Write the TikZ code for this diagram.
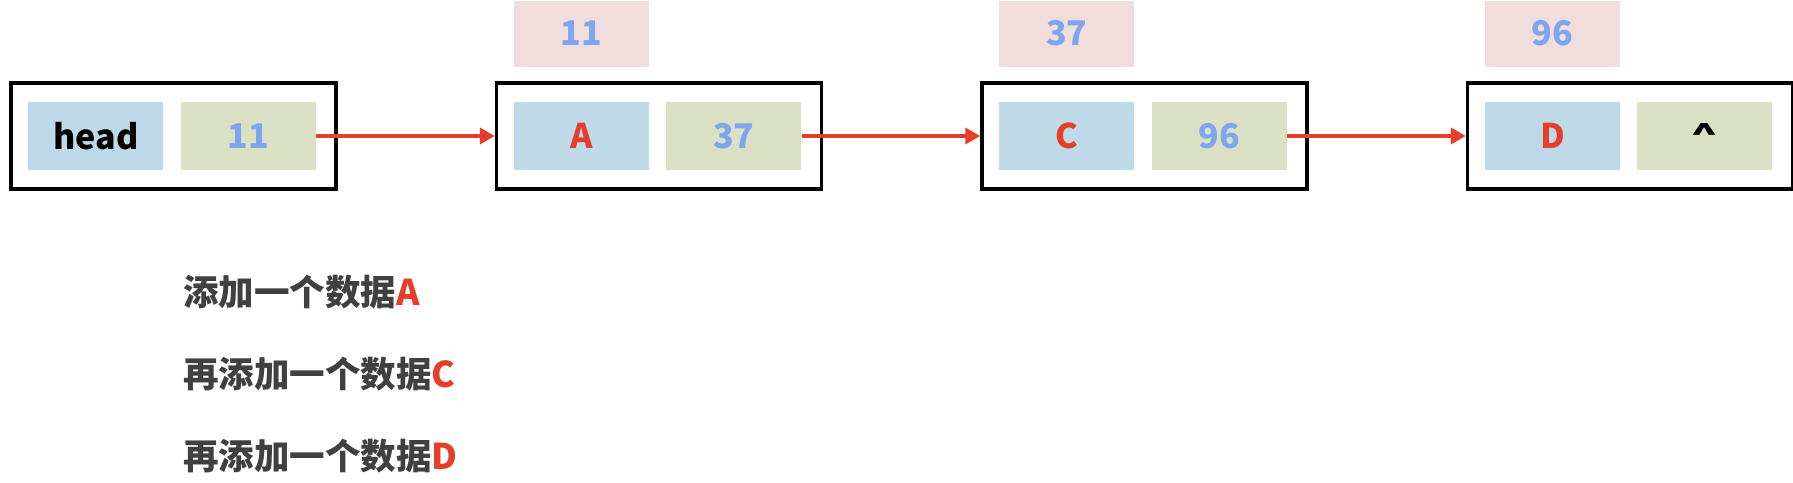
\documentclass[tikz,border=0pt]{standalone}
\usepackage{fontspec}
\setmainfont{Noto Sans CJK SC}
\usetikzlibrary{positioning,arrows.meta}

\definecolor{cellblue}{RGB}{190,218,233}
\definecolor{cellgreen}{RGB}{217,224,196}
\definecolor{tagpink}{RGB}{242,221,221}
\definecolor{numblue}{RGB}{125,165,240}
\definecolor{datared}{RGB}{230,62,40}
\definecolor{textgray}{RGB}{64,64,64}

\begin{document}
\begin{tikzpicture}[
    every node/.style={font=\fontsize{34}{40}\selectfont\bfseries},
    listnode/.style={draw=black, line width=3.5pt, minimum width=325pt,
        minimum height=106pt, inner sep=0pt},
    datacell/.style={fill=cellblue, minimum width=135pt, minimum height=68pt,
        inner sep=0pt, text=datared},
    nextcell/.style={fill=cellgreen, minimum width=135pt, minimum height=68pt,
        inner sep=0pt, text=numblue},
    addrtag/.style={fill=tagpink, minimum width=135pt, minimum height=66pt,
        inner sep=0pt, text=numblue},
    link/.style={-{Triangle[length=15pt,width=16pt]}, draw=datared,
        line width=4.5pt},
    msgline/.style={inner sep=0pt, text=textgray,
        font=\fontsize{35.5}{40}\selectfont\bfseries}]
    \useasboundingbox (0pt,0pt) rectangle (1793pt,-482pt);

    % list nodes
    \node[listnode] (head) at (173.5pt,-136pt) {};
    \node[listnode] (nA) [right=157pt of head] {};
    \node[listnode] (nC) [right=157pt of nA] {};
    \node[listnode] (nD) [right=157pt of nC] {};

    % cells
    \node[datacell, text=black] (hData) [right=19pt of head.west] {head};
    \node[nextcell] (hNext) [right=17pt of hData] {11};
    \node[datacell] (aData) [right=19pt of nA.west] {A};
    \node[nextcell] (aNext) [right=17pt of aData] {37};
    \node[datacell] (cData) [right=19pt of nC.west] {C};
    \node[nextcell] (cNext) [right=17pt of cData] {96};
    \node[datacell] (dData) [right=19pt of nD.west] {D};
    \node[nextcell, text=black] (dNext) [right=17pt of dData]
        {\raisebox{5pt}{\resizebox{28pt}{20pt}{\textasciicircum}}};

    % addresses
    \node[addrtag] (aTag) [above=35pt of aData] {11};
    \node[addrtag] (cTag) [above=35pt of cData] {37};
    \node[addrtag] (dTag) [above=35pt of dData] {96};

    \draw[link] (hNext.east) -- (nA.west);
    \draw[link] (aNext.east) -- (nC.west);
    \draw[link] (cNext.east) -- (nD.west);

    % steps
    \node[msgline, anchor=west] (t1) at (183pt,-292pt) {添加一个数据\textcolor{datared}{A}};
    \node[msgline, below=82pt of t1.west, anchor=west] (t2) {再添加一个数据\textcolor{datared}{C}};
    \node[msgline, below=82pt of t2.west, anchor=west] (t3) {再添加一个数据\textcolor{datared}{D}};
\end{tikzpicture}
\end{document}
